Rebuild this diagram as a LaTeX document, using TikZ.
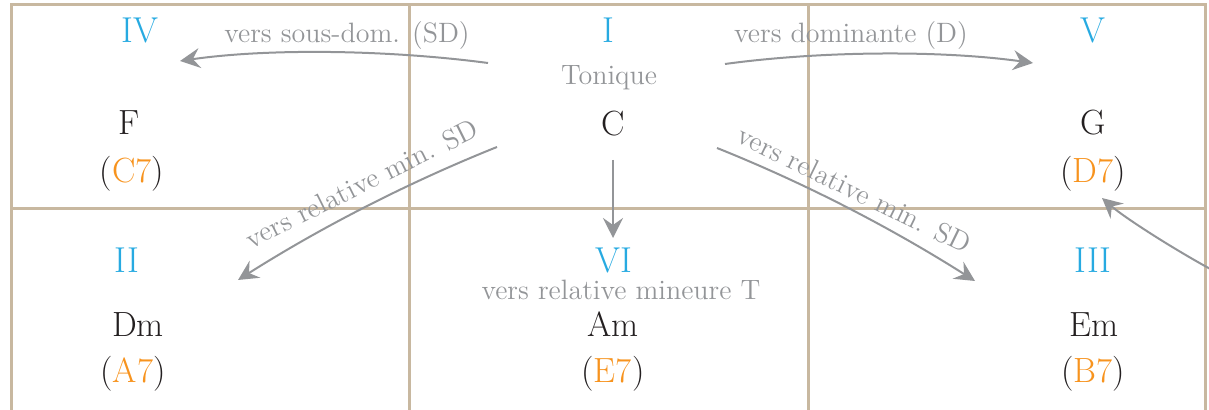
\documentclass[tikz,border=0pt]{standalone}
\usepackage{tikz}
\usetikzlibrary{arrows.meta}
\definecolor{gridtan}{RGB}{200,184,160}
\definecolor{degblue}{RGB}{39,170,225}
\definecolor{domorange}{RGB}{247,147,30}
\definecolor{hintgray}{RGB}{147,149,152}
\definecolor{chordblack}{RGB}{35,31,32}
\newcommand{\domchord}[1]{(\textcolor{domorange}{#1})}

\begin{document}
\begin{tikzpicture}[x=0.5pt,y=-0.5pt,
  degree/.style={text=degblue,font=\fontsize{18}{18}\selectfont,anchor=base,inner sep=0pt},
  chord/.style={text=chordblack,font=\fontsize{17.5}{18}\selectfont,anchor=base,inner sep=0pt},
  hint/.style={text=hintgray,font=\fontsize{14}{14}\selectfont,anchor=base,inner sep=0pt},
  cell/.style={gridtan,line width=1.5pt},
  move/.style={hintgray,line width=1pt,-{Stealth[length=10pt,width=10pt,inset=3.5pt]}}]
  \useasboundingbox (0,0) rectangle (1209,410);
  % grid of the six degrees
  \draw[cell] (11,410) -- (11,5) -- (1205,5) -- (1205,410);
  \draw[cell] (11,209) -- (1205,209);
  \foreach \x in {409,808} \draw[cell] (\x,5) -- (\x,410);
  % degrees
  \foreach \d/\x/\y in {IV/140/43, I/608/43, V/1093/43, II/127/273, VI/614/273, III/1093/273}
    \node[degree] (deg\d) at (\x,\y) {\d};
  % chords
  \foreach \c/\x/\y in {F/129/135, C/613/136, G/1093/135, Dm/138/337, Am/613/337, Em/1094/337}
    \node[chord] (ch\c) at (\x,\y) {\c};
  % secondary dominants
  \foreach \c/\x/\y in {C7/132/183, D7/1093/183, A7/133/383, E7/613/383, B7/1093/383}
    \node[chord] (dom\c) at (\x,\y) {\domchord{\c}};
  % labels of the moves
  \node[hint] (tonlab) at (609,85) {Tonique};
  \node[hint] (sdlab) at (347,43) {vers sous-dom. (SD)};
  \node[hint] (dlab) at (851,43) {vers dominante (D)};
  \node[hint] (relT) at (621,300) {vers relative mineure T};
  \node[hint,rotate=26.5] (relL) at (366,192) {vers relative min. SD};
  \node[hint,rotate=-26] (relR) at (850,198) {vers relative min. SD};
  % ends of the arrows
  \coordinate (sdS) at (488,63);  \coordinate (sdE) at (180,61);
  \coordinate (dS) at (725,64);   \coordinate (dE) at (1033,63);
  \coordinate (lmS) at (497,147); \coordinate (lmE) at (238,280);
  \coordinate (rmS) at (717,148); \coordinate (rmE) at (975,281);
  \coordinate (tS) at (613,160);  \coordinate (tE) at (613,238);
  \coordinate (edS) at (1214,271); \coordinate (edE) at (1102,198);
  % arrows
  \draw[move] (sdS) .. controls (390,50) and (270,48) .. (sdE);
  \draw[move] (dS) .. controls (820,51) and (940,50) .. (dE);
  \draw[move] (lmS) .. controls (407,183) and (320,228) .. (lmE);
  \draw[move] (rmS) .. controls (807,184) and (893,229) .. (rmE);
  \draw[move] (tS) -- (tE);
  \draw[move] (edS) .. controls (1175,250) and (1125,218) .. (edE);
\end{tikzpicture}
\end{document}
